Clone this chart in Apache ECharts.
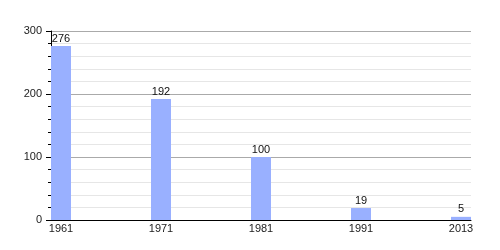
<!DOCTYPE html>
<html>
<head>
<meta charset="utf-8">
<script src="https://cdn.jsdelivr.net/npm/echarts@6/dist/echarts.min.js"></script>
<style>html,body{margin:0;padding:0;background:#fff}#c{width:500px;height:250px}</style>
</head>
<body>
<div id="c"></div>
<script>
const years = ['1961', '1971', '1981', '1991', '2013'];
const values = [276, 192, 100, 19, 5];
const yTicks = [0, 100, 200, 300];

const chart = echarts.init(document.getElementById('c'), null, {renderer: 'canvas'});
const font = 'Liberation Sans, Arial, sans-serif';
chart.setOption({
  animation: false,
  grid: {left: 51, right: 29, top: 31, bottom: 30},
  xAxis: {
    type: 'value',
    min: -0.1,
    max: years.length - 0.9,
    axisLine: {show: true, onZero: false, lineStyle: {color: '#000', width: 1}},
    axisTick: {show: false},
    splitLine: {show: false},
    axisLabel: {
      customValues: years.map((_, i) => i),
      formatter: v => years[Math.round(v)],
      color: '#222', fontSize: 11, fontFamily: font, margin: 3
    }
  },
  yAxis: {
    type: 'value',
    min: yTicks[0],
    max: yTicks[yTicks.length - 1],
    interval: 100,
    axisLine: {show: true, onZero: false, lineStyle: {color: '#000', width: 1}},
    axisTick: {show: true, length: 5, lineStyle: {color: '#000'}},
    minorTick: {show: true, splitNumber: 5, length: 3, lineStyle: {color: '#000'}},
    splitLine: {show: true, lineStyle: {color: '#aaa', width: 1}},
    minorSplitLine: {show: true, lineStyle: {color: '#e6e6e6', width: 1}},
    axisLabel: {color: '#222', fontSize: 11, fontFamily: font, margin: 9}
  },
  series: [{
    type: 'bar',
    barWidth: 20,
    data: values.map((v, i) => [i, v]),
    itemStyle: {color: '#99b0ff'},
    label: {show: true, position: 'top', distance: 2, color: '#111', fontSize: 11, fontFamily: font,
      formatter: p => p.value[1]}
  }]
});
</script>
</body>
</html>
